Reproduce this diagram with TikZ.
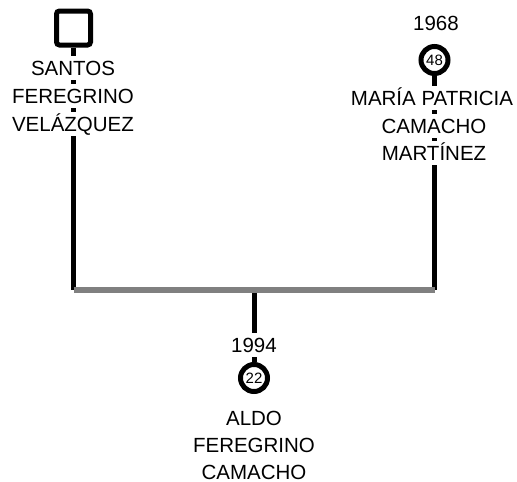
\documentclass[tikz,border=0pt]{standalone}
\usepackage{fontspec}
\setmainfont{Liberation Sans}
\begin{document}
\begin{tikzpicture}[x=1pt,y=-1pt,
	man/.style={rectangle,rounded corners=3pt,minimum size=34pt,inner sep=0pt,line width=5pt,draw},
	woman/.style={circle,minimum size=27pt,inner sep=0pt,line width=5pt,draw,font=\fontsize{15}{15}\selectfont},
	descent/.style={line width=5pt},
	couple/.style={line width=5.5pt,color=gray},
	namerow/.style={fill=white,inner xsep=1pt,inner ysep=4pt,text height=15pt,text depth=1pt,font=\fontsize{20.5}{20.5}\selectfont}]
		\useasboundingbox (0,0) rectangle (517,482);

		\draw (73.5,28) node (santos) [man] {};
		\draw (434.5,60) node (maria) [woman] {48};
		\draw (254,378) node (aldo) [woman] {22};

		\coordinate (lbar) at (73.5,290);
		\coordinate (rbar) at (434.5,290);
		\coordinate (cbar) at (254,290);

		\draw[descent] (santos) -- (lbar);
		\draw[descent] (maria) -- (rbar);
		\draw[descent] (cbar) -- (aldo);
		\draw[couple] (lbar) -- (rbar);

		\draw (73,68) node (santos1) [namerow] {SANTOS};
		\draw (73,96) node (santos2) [namerow] {FEREGRINO};
		\draw (73,124) node (santos3) [namerow] {VELÁZQUEZ};

		\draw (436,23) node (mariayear) [namerow] {1968};
		\draw (432,98) node (maria1) [namerow] {MARÍA PATRICIA};
		\draw (434,126) node (maria2) [namerow] {CAMACHO};
		\draw (434,153) node (maria3) [namerow] {MARTÍNEZ};

		\draw (254,345) node (aldoyear) [namerow] {1994};
		\draw (254,418) node (aldo1) [namerow] {ALDO};
		\draw (254,445) node (aldo2) [namerow] {FEREGRINO};
		\draw (254,472) node (aldo3) [namerow] {CAMACHO};
	\end{tikzpicture}
\end{document}
